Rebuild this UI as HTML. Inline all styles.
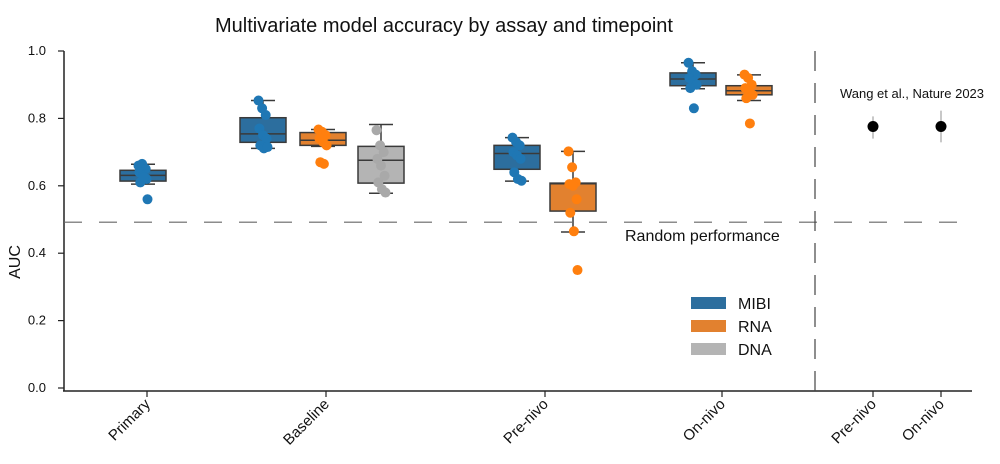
<!DOCTYPE html>
<html><head><meta charset="utf-8"><style>
html,body{margin:0;padding:0;background:#fff;}
svg{display:block;font-family:"Liberation Sans",Arial,sans-serif;}
</style></head><body>
<svg id="chart" width="1000" height="464" viewBox="0 0 1000 464">
<text x="444" y="32" font-size="20" text-anchor="middle" fill="#111">Multivariate model accuracy by assay and timepoint</text>
<text x="20" y="262" font-size="16" text-anchor="middle" transform="rotate(-90 20 262)" fill="#111">AUC</text>
<g id="axes"></g>
<g id="marks"></g>
<g>
<rect x="691" y="297" width="35" height="12" fill="#2c6e9e"/>
<text x="738" y="309" font-size="16" fill="#111">MIBI</text>
<rect x="691" y="320" width="35" height="12" fill="#e2812f"/>
<text x="738" y="332" font-size="16" fill="#111">RNA</text>
<rect x="691" y="343" width="35" height="12" fill="#b4b4b4"/>
<text x="738" y="355" font-size="16" fill="#111">DNA</text>
</g>
<text x="625" y="241" font-size="16" fill="#111">Random performance</text>
<text x="912" y="98" font-size="13" text-anchor="middle" fill="#111">Wang et al., Nature 2023</text>
</svg>
<script>
const yTicks = [0.0, 0.2, 0.4, 0.6, 0.8, 1.0];
const groupLabels = ["Primary", "Baseline", "Pre-nivo", "On-nivo", "Pre-nivo", "On-nivo"];
const groupX = [147, 326, 545, 722, 873, 941];
const boxNames = ["primary-mibi","baseline-mibi","baseline-rna","baseline-dna","prenivo-mibi","prenivo-rna","onnivo-mibi","onnivo-rna"];
const boxGroup = [0, 1, 1, 1, 2, 2, 3, 3];
const boxOffset = [-4, -63, -3, 55, -28, 28, -29, 27];
const boxAssay = ["MIBI","MIBI","RNA","DNA","MIBI","RNA","MIBI","RNA"];
const whiskerLow = [0.605, 0.711, 0.717, 0.578, 0.614, 0.463, 0.888, 0.853];
const q1 = [0.614, 0.729, 0.720, 0.608, 0.649, 0.525, 0.897, 0.870];
const medians = [0.631, 0.754, 0.735, 0.676, 0.696, 0.606, 0.917, 0.882];
const q3 = [0.646, 0.802, 0.758, 0.717, 0.720, 0.608, 0.935, 0.897];
const whiskerHigh = [0.664, 0.853, 0.767, 0.782, 0.743, 0.702, 0.965, 0.929];
const pointsPrimaryMibi = [0.66,0.665,0.65,0.64,0.63,0.62,0.61,0.625,0.56];
const pointsBaselineMibi = [0.853,0.83,0.81,0.77,0.75,0.74,0.72,0.711,0.715];
const pointsBaselineRna = [0.767,0.76,0.75,0.74,0.73,0.72,0.67,0.665];
const pointsBaselineDna = [0.765,0.72,0.70,0.68,0.66,0.63,0.61,0.59,0.58];
const pointsPrenivoMibi = [0.743,0.73,0.72,0.70,0.69,0.68,0.64,0.62,0.615];
const pointsPrenivoRna = [0.702,0.655,0.61,0.605,0.60,0.56,0.52,0.465,0.35];
const pointsOnnivoMibi = [0.965,0.94,0.93,0.92,0.91,0.90,0.89,0.83];
const pointsOnnivoRna = [0.93,0.92,0.90,0.89,0.88,0.87,0.86,0.785];
const wangMean = [0.776, 0.776];
const wangLow = [0.74, 0.729];
const wangHigh = [0.806, 0.823];
const randomLevel = 0.492;

const allPoints = [pointsPrimaryMibi,pointsBaselineMibi,pointsBaselineRna,pointsBaselineDna,pointsPrenivoMibi,pointsPrenivoRna,pointsOnnivoMibi,pointsOnnivoRna];
const fillC = {MIBI:"#2c6e9e", RNA:"#e2812f", DNA:"#b4b4b4"};
const ptC = {MIBI:"#1f77b4", RNA:"#ff7f0e", DNA:"#a9a9a9"};
const NS = "http://www.w3.org/2000/svg";
function y(v){ return 388 - v*337; }
function mk(parent, tag, attrs){ const e=document.createElementNS(NS,tag); for(const k in attrs) e.setAttribute(k,attrs[k]); parent.appendChild(e); return e; }
const axes = document.getElementById('axes');
const marks = document.getElementById('marks');

let a = mk(axes,'line',{x1:64,y1:51,x2:64,y2:391,stroke:'#222','stroke-width':1.5});


a = mk(axes,'line',{x1:63,y1:391,x2:972,y2:391,stroke:'#222','stroke-width':1.5});


yTicks.forEach(v=>{
  const t = mk(axes,'line',{x1:58,y1:y(v),x2:64,y2:y(v),stroke:'#222','stroke-width':1.2});
  
  
  const l = mk(axes,'text',{x:46,y:y(v)+4,'font-size':13,'text-anchor':'end',fill:'#111'});
  l.textContent = v.toFixed(1);
  
  
});
groupLabels.forEach((g,i)=>{
  const x = groupX[i];
  const t = mk(axes,'line',{x1:x,y1:391,x2:x,y2:397,stroke:'#222','stroke-width':1.2});
  
  
  const l = mk(axes,'text',{x:x+4,y:405,'font-size':15,'text-anchor':'end',fill:'#111',transform:`rotate(-45 ${x+4} 405)`});
  l.textContent = g;
  
  
});
let rl = mk(axes,'line',{x1:64,y1:y(randomLevel),x2:972,y2:y(randomLevel),stroke:'#666','stroke-width':1.2,'stroke-dasharray':'18 17'});


let vl = mk(axes,'line',{x1:815,y1:51,x2:815,y2:391,stroke:'#444','stroke-width':1.2,'stroke-dasharray':'20 12'});



boxNames.forEach((n,i)=>{
  const cx = groupX[boxGroup[i]] + boxOffset[i];
  const w = 46;
  const g = mk(marks,'g',{});
  
  
  const s = '#3a3a3a';
  mk(g,'line',{x1:cx,y1:y(whiskerHigh[i]),x2:cx,y2:y(q3[i]),stroke:s,'stroke-width':1.5});
  mk(g,'line',{x1:cx,y1:y(q1[i]),x2:cx,y2:y(whiskerLow[i]),stroke:s,'stroke-width':1.5});
  mk(g,'line',{x1:cx-12,y1:y(whiskerHigh[i]),x2:cx+12,y2:y(whiskerHigh[i]),stroke:s,'stroke-width':1.5});
  mk(g,'line',{x1:cx-12,y1:y(whiskerLow[i]),x2:cx+12,y2:y(whiskerLow[i]),stroke:s,'stroke-width':1.5});
  mk(g,'rect',{x:cx-w/2,y:y(q3[i]),width:w,height:Math.max(1,y(q1[i])-y(q3[i])),fill:fillC[boxAssay[i]],stroke:s,'stroke-width':1.5});
  mk(g,'line',{x1:cx-w/2,y1:y(medians[i]),x2:cx+w/2,y2:y(medians[i]),stroke:s,'stroke-width':1.5});
  allPoints[i].forEach((v,j)=>{
    const jit = ((j*37)%11 - 5)*0.9;
    const c = mk(g,'circle',{cx:cx+jit,cy:y(v),r:5,fill:ptC[boxAssay[i]]});
    
    
  });
});
wangMean.forEach((m,i)=>{
  const x = groupX[4+i];
  const e = mk(marks,'line',{x1:x,y1:y(wangHigh[i]),x2:x,y2:y(wangLow[i]),stroke:'#aaa','stroke-width':1.3});
  
  
  const c = mk(marks,'circle',{cx:x,cy:y(m),r:5.5,fill:'#000'});
  
  
});
</script>
</body></html>
